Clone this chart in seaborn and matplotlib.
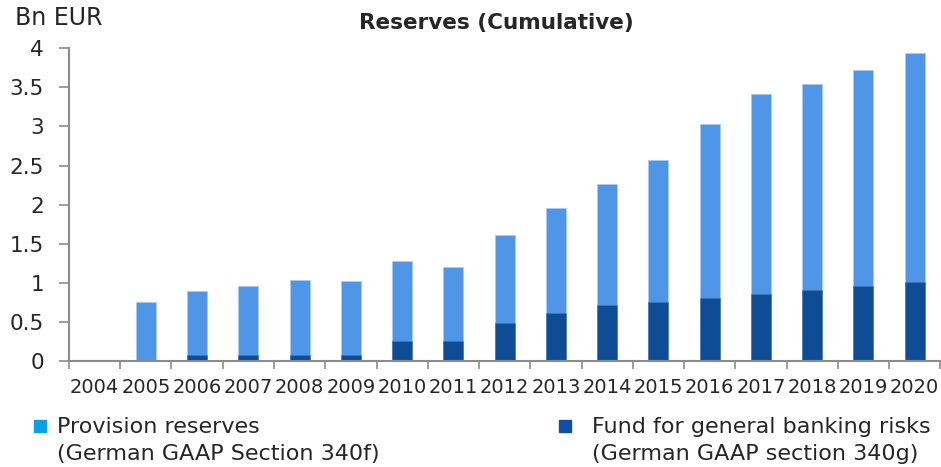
import matplotlib
matplotlib.use("Agg")
import matplotlib.pyplot as plt
import numpy as np
import pandas as pd
import seaborn as sns
from matplotlib.lines import Line2D
from matplotlib.ticker import FixedLocator

YEARS = [str(y) for y in range(2004, 2021)]
PROVISION_RESERVES = [0.0, 0.76, 0.82, 0.875, 0.95, 0.94, 1.015, 0.94, 1.125,
                      1.34, 1.55, 1.82, 2.22, 2.55, 2.63, 2.76, 2.93]
FUND_BANKING_RISKS = [0.0, 0.0, 0.08, 0.08, 0.08, 0.08, 0.26, 0.26, 0.49,
                      0.62, 0.71, 0.75, 0.81, 0.86, 0.91, 0.96, 1.01]
Y_TICKS = [0, 0.5, 1, 1.5, 2, 2.5, 3, 3.5, 4]

LIGHT = "#5096E8"
DARK = "#0F4C96"
LEGEND_LIGHT = "#0AA0E6"
LEGEND_DARK = "#0F4FA8"
AXIS_GREY = "#8c8c8c"

sns.set_theme(style="white")
plt.rcParams["font.family"] = ["DejaVu Sans"]

df = pd.DataFrame({
    "year": YEARS,
    "provision": PROVISION_RESERVES,
    "fund": FUND_BANKING_RISKS,
})
df["total"] = df["provision"] + df["fund"]

fig = plt.figure(figsize=(9.41, 4.67), dpi=100)
ax = fig.add_axes([0.0733, 0.227, 0.926, 0.6696])

# light bars = full stack height, dark bars drawn over the bottom part
sns.barplot(data=df, x="year", y="total", color=LIGHT, saturation=1,
            width=0.39, edgecolor="#a8ccf4", linewidth=0.6, ax=ax)
sns.barplot(data=df, x="year", y="fund", color=DARK, saturation=1,
            width=0.39, edgecolor="#4a78b0", linewidth=0.4, ax=ax)

ax.set_xlim(-0.5, len(YEARS) - 0.5)
ax.set_ylim(0, 4)
ax.set_yticks(Y_TICKS)
ax.set_yticklabels([f"{t:g}" for t in Y_TICKS], fontsize=15.5)
ax.set_xlabel("")
ax.set_ylabel("")

# boundary ticks between categories on the x axis
ax.xaxis.set_minor_locator(FixedLocator(np.arange(-0.5, len(YEARS), 1.0)))
ax.tick_params(axis="x", which="major", length=0, pad=12, labelsize=14)
ax.tick_params(axis="x", which="minor", length=6, width=1.2, color=AXIS_GREY,
               direction="out", bottom=True)
ax.tick_params(axis="y", which="major", length=7, width=1.2, color=AXIS_GREY,
               direction="out", left=True, pad=11)

for side in ["top", "right"]:
    ax.spines[side].set_visible(False)
for side in ["left", "bottom"]:
    ax.spines[side].set_color(AXIS_GREY)
    ax.spines[side].set_linewidth(1.5)

fig.text(0.016, 0.962, "Bn EUR", fontsize=17, ha="left", va="center")
fig.text(0.528, 0.951, "Reserves (Cumulative)", fontsize=15.5, fontweight="bold",
         ha="center", va="center")

# legend: square marker next to the first line of a two-line label
legend_items = [
    (0.0425, 0.0605, LEGEND_LIGHT, "Provision reserves\n(German GAAP Section 340f)"),
    (0.6005, 0.6295, LEGEND_DARK, "Fund for general banking risks\n(German GAAP section 340g)"),
]
for mx, tx, col, label in legend_items:
    fig.add_artist(Line2D([mx], [0.0878], marker="s", markersize=9, color=col,
                          linestyle="None", transform=fig.transFigure))
    fig.text(tx, 0.0567, label, fontsize=16, ha="left", va="center",
             linespacing=1.45, transform=fig.transFigure)

fig.savefig("out.png", dpi=100)
